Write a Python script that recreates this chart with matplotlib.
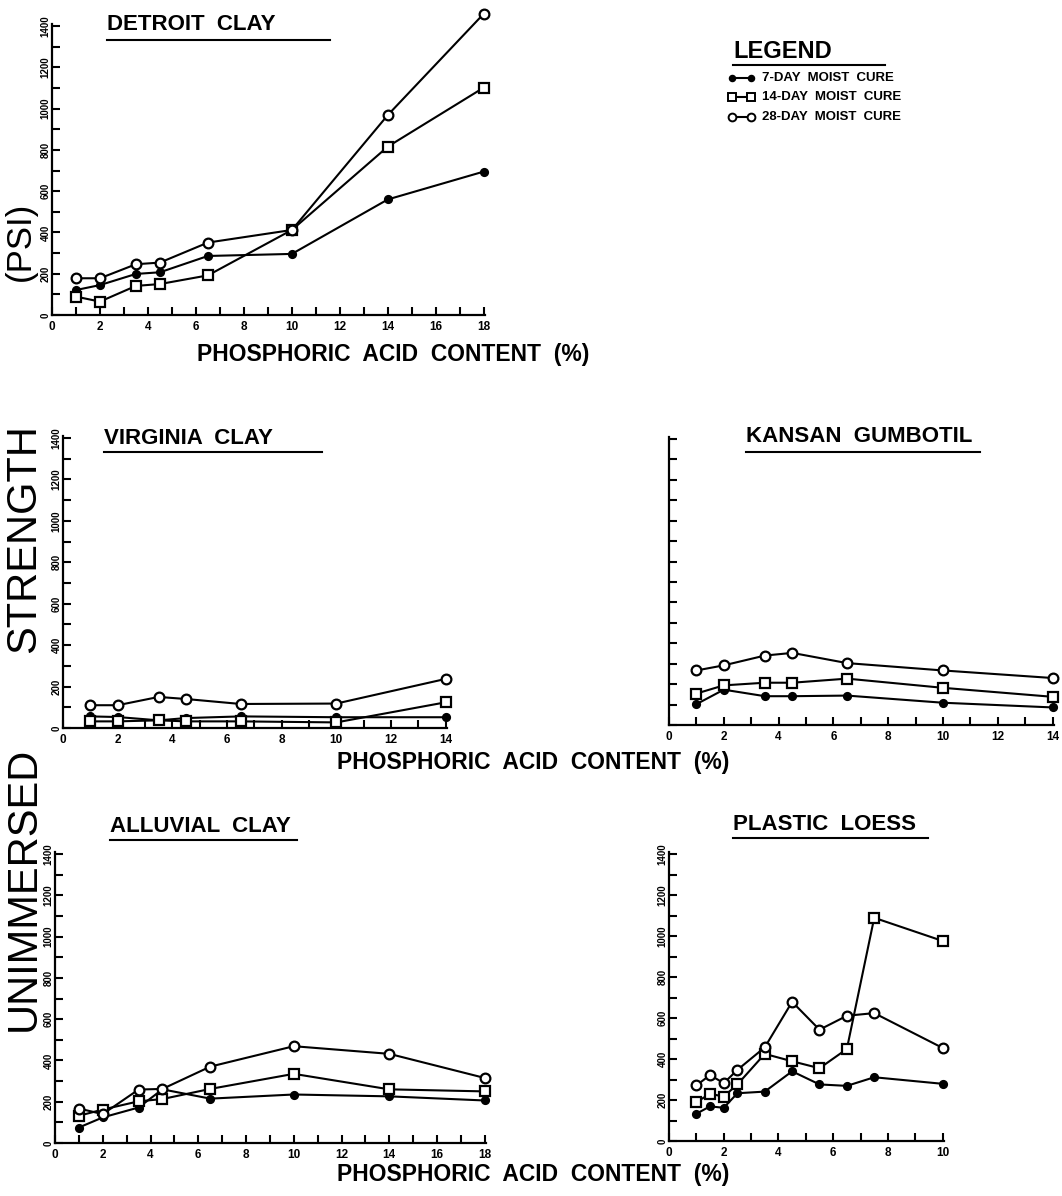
import matplotlib.pyplot as plt
from matplotlib.lines import Line2D
from matplotlib.ticker import MultipleLocator

plt.rcParams['font.family'] = ['Liberation Sans', 'DejaVu Sans']

# Detroit clay
detroit_x = [1, 2, 3.5, 4.5, 6.5, 10, 14, 18]
detroit_7 = [121, 145, 199, 207, 286, 296, 560, 695]
detroit_14 = [89, 65, 141, 150, 192, 412, 816, 1102]
detroit_28 = [178, 178, 246, 254, 351, 412, 969, 1460]

# Virginia clay
virginia_x = [1, 2, 3.5, 4.5, 6.5, 10, 14]
virginia_7 = [56, 53, 37, 48, 56, 52, 52]
virginia_14 = [32, 32, 37, 32, 32, 27, 124]
virginia_28 = [110, 110, 150, 140, 116, 118, 237]

# Kansan gumbotil
kansan_x = [1, 2, 3.5, 4.5, 6.5, 10, 14]
kansan_7 = [102, 173, 141, 141, 144, 109, 86]
kansan_14 = [154, 194, 207, 207, 227, 182, 138]
kansan_28 = [267, 292, 340, 353, 303, 267, 230]

# Alluvial clay
alluvial_x = [1, 2, 3.5, 4.5, 6.5, 10, 14, 18]
alluvial_7 = [75, 124, 172, 260, 215, 235, 226, 206]
alluvial_14 = [132, 162, 202, 213, 262, 335, 260, 250]
alluvial_28 = [167, 140, 259, 262, 370, 469, 432, 315]

# Plastic loess
loess_x = [1, 1.5, 2, 2.5, 3.5, 4.5, 5.5, 6.5, 7.5, 10]
loess_7 = [133, 169, 162, 233, 241, 340, 276, 269, 311, 279]
loess_14 = [190, 230, 217, 276, 425, 389, 355, 449, 1089, 976]
loess_28 = [271, 322, 282, 347, 457, 679, 543, 611, 624, 454]

W, H = 1062, 1196
fig = plt.figure(figsize=(W / 100, H / 100), dpi=100)

styles = {
    '7': dict(marker='o', ms=5, mfc='black', mec='black'),
    '14': dict(marker='s', ms=6.5, mfc='white', mec='black'),
    '28': dict(marker='o', ms=7, mfc='white', mec='black'),
}


def px_axes(x0, x1, y0, y1):
    # pixel box (left, right, top, bottom) -> figure axes
    return fig.add_axes([x0 / W, 1 - y1 / H, (x1 - x0) / W, (y1 - y0) / H])


def panel(box, xs, s7, s14, s28, xmax, ylabels=True):
    ax = px_axes(*box)
    for key, ys in (('7', s7), ('14', s14), ('28', s28)):
        ax.plot(xs, ys, color='black', lw=1.5, mew=1.6, clip_on=False,
                zorder=3, **styles[key])
    ax.set_xlim(0, xmax + 0.05)
    ax.set_ylim(0, 1410)
    for side in ('top', 'right'):
        ax.spines[side].set_visible(False)
    for side in ('left', 'bottom'):
        ax.spines[side].set_linewidth(1.6)
    ax.xaxis.set_major_locator(MultipleLocator(2))
    ax.xaxis.set_minor_locator(MultipleLocator(1))
    ax.yaxis.set_major_locator(MultipleLocator(200))
    ax.yaxis.set_minor_locator(MultipleLocator(100))
    ax.tick_params(which='both', direction='in', length=6, width=1.5,
                   labelsize=8.5, pad=4)
    for lab in ax.get_xticklabels():
        lab.set_fontweight('bold')
    if ylabels:
        ax.tick_params(axis='y', labelrotation=90, pad=1, labelsize=7)
        for lab in ax.get_yticklabels():
            lab.set_fontweight('bold')
            lab.set_va('center')
    else:
        ax.tick_params(axis='y', labelleft=False)
    return ax


def title(text, x0, yc, x1, yu, size=16):
    fig.text(x0 / W, 1 - yc / H, text, fontsize=size, fontweight='bold',
             ha='left', va='center')
    fig.add_artist(Line2D([x0 / W, x1 / W], [1 - yu / H, 1 - yu / H],
                          color='black', lw=1.5))


panel((52, 485, 24, 315), detroit_x, detroit_7, detroit_14, detroit_28, 18)
panel((63, 447, 436, 728), virginia_x, virginia_7, virginia_14, virginia_28, 14)
panel((669, 1054, 437, 725), kansan_x, kansan_7, kansan_14, kansan_28, 14,
      ylabels=False)
panel((55, 486, 852, 1143), alluvial_x, alluvial_7, alluvial_14, alluvial_28, 18)
panel((669, 944, 852, 1141), loess_x, loess_7, loess_14, loess_28, 10)

title('DETROIT  CLAY', 107, 25, 330, 40)
title('VIRGINIA  CLAY', 104, 439, 322, 452)
title('KANSAN  GUMBOTIL', 746, 436, 980, 452)
title('ALLUVIAL  CLAY', 110, 826, 297, 840)
title('PLASTIC  LOESS', 733, 824, 928, 838)

xlab = 'PHOSPHORIC  ACID  CONTENT  (%)'
for x0, yc in ((197, 355), (337, 762), (337, 1175)):
    fig.text(x0 / W, 1 - yc / H, xlab, fontsize=16.5, fontweight='bold',
             ha='left', va='center')

# big vertical axis title
for word, yc, x, size in (('UNIMMERSED', 889, 24, 30),
                          ('STRENGTH', 539, 24, 30),
                          ('(PSI)', 241, 20, 25)):
    fig.text(x / W, 1 - yc / H, word, fontsize=size, rotation=90,
             ha='center', va='center')

# legend
fig.text(733 / W, 1 - 51 / H, 'LEGEND', fontsize=17, fontweight='bold',
         ha='left', va='center')
fig.add_artist(Line2D([733 / W, 885 / W], [1 - 65 / H, 1 - 65 / H],
                      color='black', lw=1.5))
entries = [('7', '7-DAY  MOIST  CURE', 78),
           ('14', '14-DAY  MOIST  CURE', 97),
           ('28', '28-DAY  MOIST  CURE', 117)]
for key, text, y in entries:
    st = styles[key]
    fig.add_artist(Line2D([732 / W, 751 / W], [1 - y / H, 1 - y / H],
                          color='black', lw=1.5, mew=1.4,
                          marker=st['marker'], ms=st['ms'] * 0.8,
                          mfc=st['mfc'], mec=st['mec']))
    fig.text(762 / W, 1 - y / H, text, fontsize=9.5, fontweight='bold',
             ha='left', va='center')

fig.savefig('out.png', dpi=100)
